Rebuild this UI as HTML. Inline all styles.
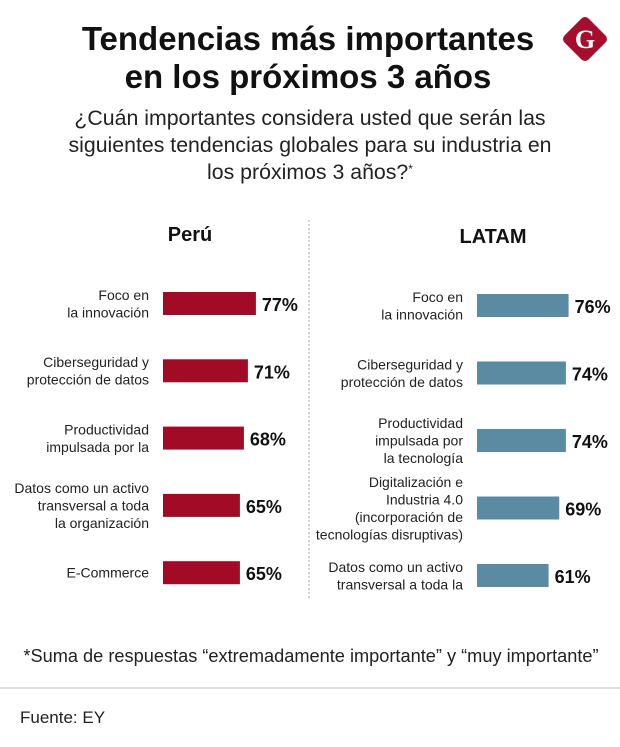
<!DOCTYPE html>
<html><head><meta charset="utf-8">
<style>
body{margin:0;background:#fff;}
svg{display:block;font-family:"Liberation Sans",sans-serif;}
</style></head>
<body>
<svg id="chart" width="620" height="747" viewBox="0 0 620 747">
<rect width="620" height="747" fill="#fff"/>
<text x="308" y="50" text-anchor="middle" font-size="33" font-weight="bold" fill="#111">Tendencias más importantes</text>
<text x="308" y="88" text-anchor="middle" font-size="33" font-weight="bold" fill="#111">en los próximos 3 años</text>
<g>
<rect x="568" y="22" width="34" height="34" rx="5" fill="#a50f2d" transform="rotate(45 585 39)"/>
<text x="585" y="48" text-anchor="middle" font-size="26" font-weight="bold" fill="#fff" font-family="Liberation Serif,serif">G</text>
</g>
<g font-size="21.3" fill="#222" text-anchor="middle">
<text x="310" y="125">¿Cuán importantes considera usted que serán las</text>
<text x="310" y="152">siguientes tendencias globales para su industria en</text>
<text x="310" y="179">los próximos 3 años?<tspan font-size="12" dy="-6">*</tspan></text>
</g>
<text x="190" y="241" text-anchor="middle" font-size="20" font-weight="bold" fill="#111">Perú</text>
<text x="493" y="243" text-anchor="middle" font-size="20" font-weight="bold" fill="#111">LATAM</text>
<line x1="309" y1="220" x2="309" y2="600" stroke="#aaa" stroke-width="1" stroke-dasharray="2,2"/>
<g id="peru"></g>
<g id="latam"></g>
<text x="311" y="662" text-anchor="middle" font-size="18.2" fill="#222">*Suma de respuestas “extremadamente importante” y “muy importante”</text>
<line x1="0" y1="688" x2="620" y2="688" stroke="#bbb" stroke-width="1"/>
<text x="20" y="723" font-size="17" fill="#222">Fuente: EY</text>
</svg>
<script>
const peruLabels=[["Foco en","la innovación"],["Ciberseguridad y","protección de datos"],["Productividad","impulsada por la"],["Datos como un activo","transversal a toda","la organización"],["E-Commerce"]];
const peruValues=[77,71,68,65,65];
const latamLabels=[["Foco en","la innovación"],["Ciberseguridad y","protección de datos"],["Productividad","impulsada por","la tecnología"],["Digitalización e","Industria 4.0","(incorporación de","tecnologías disruptivas)"],["Datos como un activo","transversal a toda la"]];
const latamValues=[76,74,74,69,61];
const NS="http://www.w3.org/2000/svg";
function draw(gid,labels,values,cfg){
  const g=document.getElementById(gid);
  const x=v=>(v-7.3)*1.333;
  values.forEach((v,i)=>{
    const y=cfg.y0+i*cfg.step;
    const r=document.createElementNS(NS,"rect");
    r.setAttribute("x",cfg.bx);r.setAttribute("y",y);
    r.setAttribute("width",x(v));r.setAttribute("height",23);
    r.setAttribute("fill",cfg.color);
    
    
    g.appendChild(r);
    const t=document.createElementNS(NS,"text");
    t.setAttribute("x",cfg.bx+x(v)+6);t.setAttribute("y",y+19);
    t.setAttribute("font-size","18");t.setAttribute("font-weight","bold");t.setAttribute("fill","#111");
    t.textContent=v+"%";
    
    
    g.appendChild(t);
    const lines=labels[i];const lh=17.5;
    const cy=y+11.5-(lines.length-1)*lh/2;
    lines.forEach((s,j)=>{
      const l=document.createElementNS(NS,"text");
      l.setAttribute("x",cfg.lx);l.setAttribute("y",cy+j*lh+5);
      l.setAttribute("text-anchor","end");l.setAttribute("font-size","14");l.setAttribute("fill","#222");
      l.textContent=s;
      
      
      g.appendChild(l);
    });
  });
}
draw("peru",peruLabels,peruValues,{y0:292,step:67.3,bx:163,lx:149,color:"#a20b25"});
draw("latam",latamLabels,latamValues,{y0:294,step:67.5,bx:477,lx:463,color:"#5b8aa3"});
</script>
</body></html>
